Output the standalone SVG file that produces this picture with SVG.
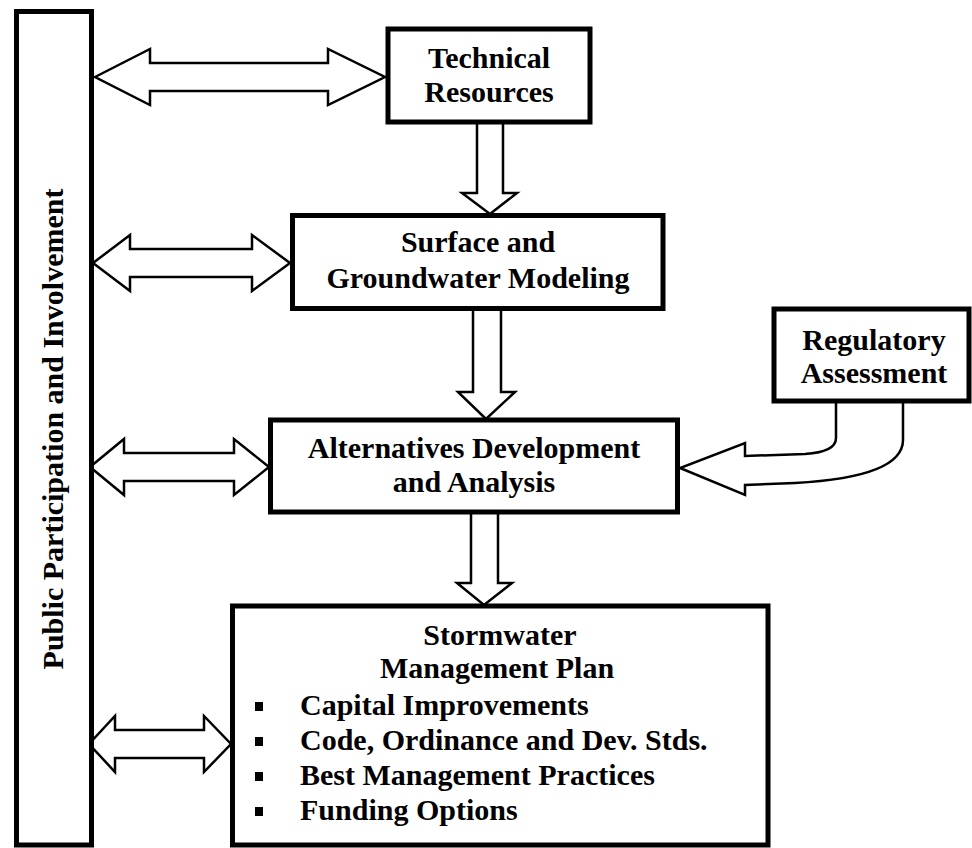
<svg xmlns="http://www.w3.org/2000/svg" width="972" height="848" viewBox="0 0 972 848">
<style>
.box{fill:#fff;stroke:#000;stroke-width:5}
.arr{fill:#fff;stroke:#000;stroke-width:2.5;stroke-linejoin:miter}
.t{font-family:"Liberation Serif","Times New Roman",serif;font-weight:bold;font-size:30px;fill:#000}
.c{text-anchor:middle}
</style>
<g id="connectors">
<polygon class="arr" points="95,77 150,49 150,63 328,63 328,49 385,77 328,105 328,91 150,91 150,105"/>
<polygon class="arr" points="93,263 130,235 130,249 252,249 252,235 290,263 252,291 252,277 130,277 130,291"/>
<polygon class="arr" points="90,467 124,439 124,453 234,453 234,439 269,467 234,495 234,481 124,481 124,495"/>
<polygon class="arr" points="89,744 115,716 115,730 204,730 204,716 231,744 204,772 204,758 115,758 115,772"/>
<path class="arr" d="M477,122 L477,193 L462,193 L490,214 L517,193 L503,193 L503,122"/>
<path class="arr" d="M473,309 L473,392 L458,392 L486,419 L515,392 L501,392 L501,309"/>
<path class="arr" d="M471,514 L471,583 L457,583 L484,605 L512,583 L498,583 L498,514"/>
<path class="arr" d="M836,401 L836,438 Q836,452 805,454 L745,456 L745,443 L680,468 L745,495 L745,485 L795,483 Q903,477 903,440 L903,401"/>
</g>
<g id="public">
<rect class="box" x="16.5" y="11.5" width="75" height="833.5"/>
<text class="t c" transform="translate(63,429) rotate(-90)">Public Participation and Involvement</text>
</g>
<g id="technical">
<rect class="box" x="388" y="29" width="202" height="93"/>
<text class="t c" x="489" y="68">Technical</text>
<text class="t c" x="489" y="102">Resources</text>
</g>
<g id="modeling">
<rect class="box" x="292.5" y="215.5" width="370.5" height="93"/>
<text class="t c" x="478" y="252">Surface and</text>
<text class="t c" x="478" y="288">Groundwater Modeling</text>
</g>
<g id="regulatory">
<rect class="box" x="774" y="309" width="195" height="92"/>
<text class="t c" x="874" y="350">Regulatory</text>
<text class="t c" x="874" y="383">Assessment</text>
</g>
<g id="alternatives">
<rect class="box" x="270.5" y="420" width="407" height="92"/>
<text class="t c" x="474" y="458">Alternatives Development</text>
<text class="t c" x="474" y="492">and Analysis</text>
</g>
<g id="plan">
<rect class="box" x="232.5" y="606" width="535.5" height="239"/>
<text class="t c" x="500" y="645">Stormwater</text>
<text class="t c" x="497" y="678">Management Plan</text>
<rect x="255" y="702" width="8" height="9" fill="#000"/>
<rect x="255" y="737" width="8" height="9" fill="#000"/>
<rect x="255" y="772" width="8" height="9" fill="#000"/>
<rect x="255" y="807" width="8" height="9" fill="#000"/>
<text class="t" x="300" y="715">Capital Improvements</text>
<text class="t" x="300" y="750">Code, Ordinance and Dev. Stds.</text>
<text class="t" x="300" y="785">Best Management Practices</text>
<text class="t" x="300" y="820">Funding Options</text>
</g>
</svg>
